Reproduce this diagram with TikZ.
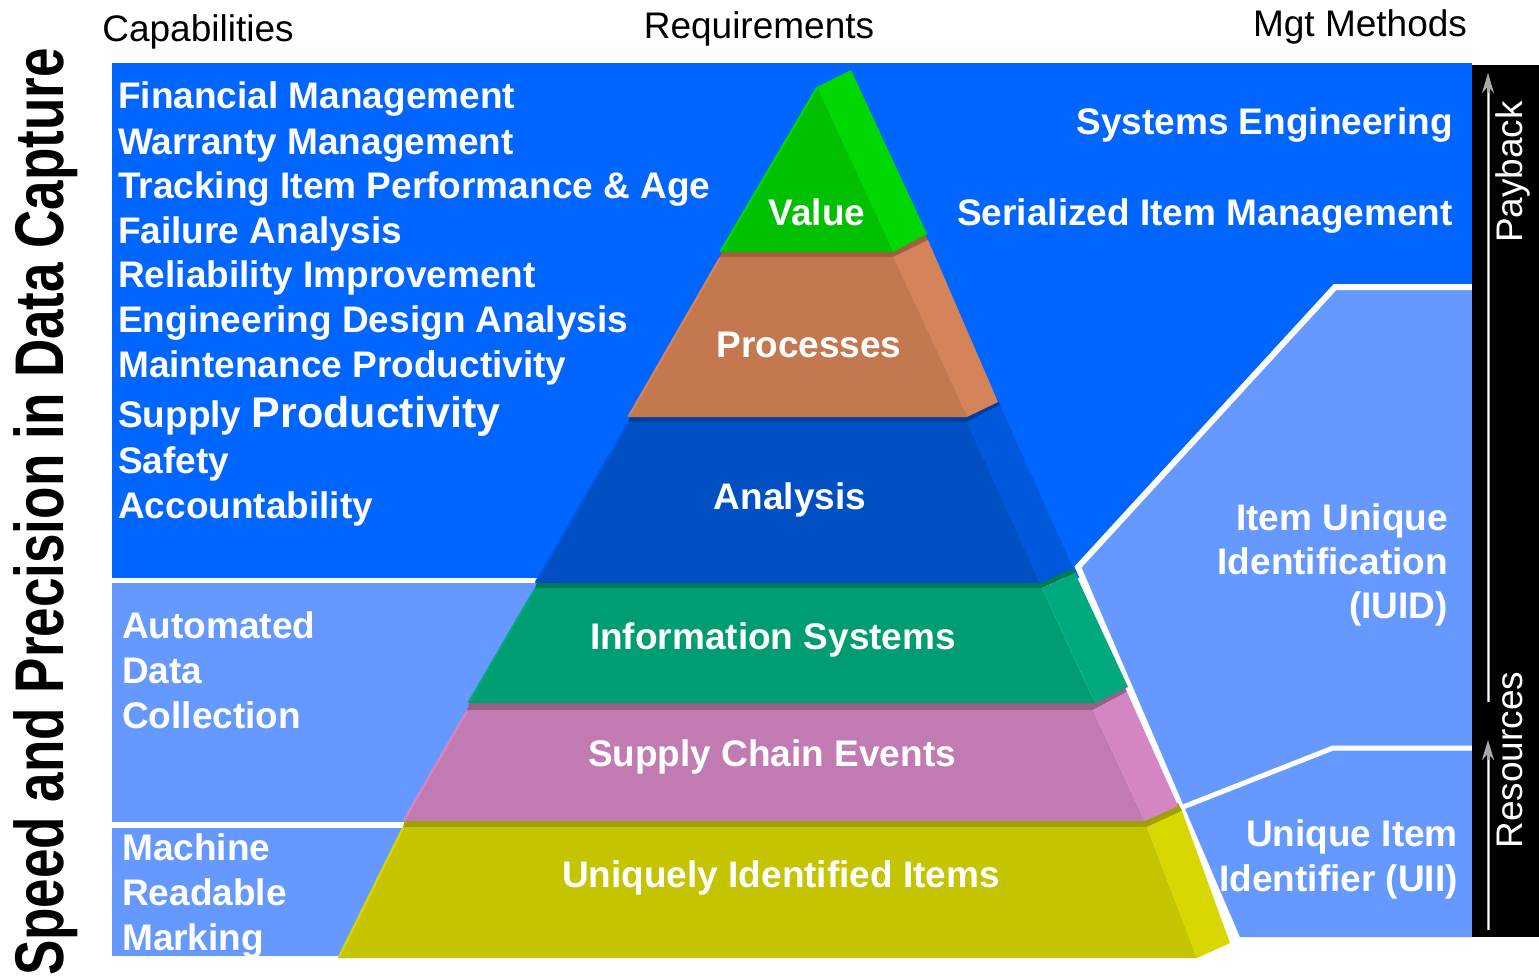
\documentclass[tikz,border=0pt]{standalone}
\usepackage{fontspec}
\setmainfont{Liberation Sans}
\usetikzlibrary{arrows.meta}
\definecolor{topblue}{HTML}{0066FF}
\definecolor{lightblue}{HTML}{6699FF}
\definecolor{vfront}{HTML}{00C000}
\definecolor{vside}{HTML}{00D800}
\definecolor{pfront}{HTML}{C47850}
\definecolor{pside}{HTML}{D48458}
\definecolor{pstrip}{HTML}{A0603C}
\definecolor{afront}{HTML}{0050C4}
\definecolor{aside}{HTML}{0058DC}
\definecolor{astrip}{HTML}{003FA0}
\definecolor{ifront}{HTML}{009C72}
\definecolor{iside}{HTML}{00AA7E}
\definecolor{istrip}{HTML}{007A56}
\definecolor{sfront}{HTML}{C27AB2}
\definecolor{sside}{HTML}{D486C2}
\definecolor{sstrip}{HTML}{966089}
\definecolor{ufront}{HTML}{C4C400}
\definecolor{uside}{HTML}{D8D800}
\definecolor{ustrip}{HTML}{A0A000}
\definecolor{arrowgray}{HTML}{A8A8A8}
\tikzset{
  wlbl/.style={text=white, font=\bfseries\fontsize{37}{40}\selectfont, inner sep=0pt},
  hdr/.style={text=black, font=\fontsize{37}{40}\selectfont, inner sep=0pt},
  vlbl/.style={text=white, font=\fontsize{37}{40}\selectfont, inner sep=0pt, rotate=90, anchor=base},
  gapline/.style={white, line join=miter},
  hiedge/.style={line width=2.2pt},
  resarrow/.style={arrowgray, line width=3pt, -{Stealth[length=20pt,width=12pt]}},
}
\begin{document}
\begin{tikzpicture}[x=1pt,y=-1pt]
\useasboundingbox (0,0) rectangle (1539,979);
\fill[white] (0,0) rectangle (1539,979);

% background panels
\fill[topblue] (112,63) rectangle (1472,578);
\fill[lightblue] (112,583) rectangle (620,822);
\fill[lightblue] (112,828) rectangle (450,956);
\fill[lightblue] (1078,567) -- (1335,287) -- (1472,287) -- (1472,937) -- (1237,937) -- cycle;
\draw[gapline, line width=6pt] (1472,287) -- (1335,287) -- (1078,567) -- (1240,945);
\draw[gapline, line width=5pt] (1183,807) -- (1333,748) -- (1472,748);
\fill[black] (1472,65) rectangle (1539,937);

% layer 6: Uniquely Identified Items
\fill[ustrip] (403,827) -- (1147,827) -- (1182,811) -- (1178,803) -- (1145,817) -- (406,817) -- cycle;
\fill[ufront] (403,827) -- (1147,827) -- (1197,958) -- (338,958) -- cycle;
\fill[uside] (1147,827) -- (1182,811) -- (1230,943) -- (1197,958) -- cycle;
\draw[uside, hiedge] (403,828) -- (339,957);

% layer 5: Supply Chain Events
\fill[sstrip] (467,710) -- (1093,710) -- (1127,692) -- (1124,685) -- (1093,700) -- (470,700) -- cycle;
\fill[sfront] (467,710) -- (1093,710) -- (1145,821) -- (403,821) -- cycle;
\fill[sside] (1093,710) -- (1127,692) -- (1178,806) -- (1145,821) -- cycle;
\draw[sside, hiedge] (467,711) -- (404,820);

% layer 4: Information Systems
\fill[istrip] (535,588) -- (1042,588) -- (1075,573) -- (1072,566) -- (1040,580) -- (538,580) -- cycle;
\fill[ifront] (535,588) -- (1042,588) -- (1095,703) -- (468,703) -- cycle;
\fill[iside] (1042,588) -- (1075,573) -- (1128,687) -- (1095,703) -- cycle;
\draw[iside, hiedge] (535,589) -- (469,702);

% layer 3: Analysis
\fill[astrip] (628,422) -- (967,422) -- (1000,405) -- (997,398) -- (966,413) -- (631,413) -- cycle;
\fill[afront] (628,422) -- (967,422) -- (1040,583) -- (535,583) -- cycle;
\fill[aside] (967,422) -- (1000,405) -- (1073,568) -- (1040,583) -- cycle;
\draw[aside, hiedge] (628,423) -- (536,582);

% layer 2: Processes
\fill[pstrip] (720,257) -- (893,257) -- (928,240) -- (925,233) -- (893,248) -- (723,248) -- cycle;
\fill[pfront] (720,257) -- (893,257) -- (967,417) -- (628,417) -- cycle;
\fill[pside] (893,257) -- (928,240) -- (998,402) -- (967,417) -- cycle;
\draw[pside, hiedge] (720,258) -- (629,416);

% layer 1: Value
\fill[vfront] (817,87) -- (893,252) -- (720,252) -- cycle;
\fill[vside] (817,87) -- (851,70) -- (927,234) -- (893,252) -- cycle;
\draw[vside, hiedge] (817,88) -- (721,251);

% pyramid labels
\node[wlbl, anchor=base] (value) at (817,225) {Value};
\node[wlbl, anchor=base] (processes) at (809,357) {Processes};
\node[wlbl, anchor=base] (analysis) at (790,509) {Analysis};
\node[wlbl, anchor=base] (infosys) at (773,649) {Information Systems};
\node[wlbl, anchor=base] (supply) at (772,766) {Supply Chain Events};
\node[wlbl, anchor=base] (uii) at (781,887) {Uniquely Identified Items};

% headers
\node[hdr, anchor=base] (hcap) at (198,42) {Capabilities};
\node[hdr, anchor=base] (hreq) at (759,39) {Requirements};
\node[hdr, anchor=base] (hmgt) at (1360,37) {Mgt Methods};

% capabilities list
\node[wlbl, anchor=base west] (c1) at (118,109) {Financial Management};
\node[wlbl, anchor=base west] (c2) at (118,154) {Warranty Management};
\node[wlbl, anchor=base west] (c3) at (118,198) {Tracking Item Performance \& Age};
\node[wlbl, anchor=base west] (c4) at (118,243) {Failure Analysis};
\node[wlbl, anchor=base west] (c5) at (118,287) {Reliability Improvement};
\node[wlbl, anchor=base west] (c6) at (118,332) {Engineering Design Analysis};
\node[wlbl, anchor=base west] (c7) at (118,377) {Maintenance Productivity};
\node[wlbl, anchor=base west] (c8) at (118,427) {Supply {\fontsize{43}{46}\selectfont Productivity}};
\node[wlbl, anchor=base west] (c9) at (118,473) {Safety};
\node[wlbl, anchor=base west] (c10) at (118,518) {Accountability};

% left lower panels
\node[wlbl, anchor=base west] (adc1) at (122,638) {Automated};
\node[wlbl, anchor=base west] (adc2) at (122,683) {Data};
\node[wlbl, anchor=base west] (adc3) at (122,728) {Collection};
\node[wlbl, anchor=base west] (mrm1) at (122,860) {Machine};
\node[wlbl, anchor=base west] (mrm2) at (122,905) {Readable};
\node[wlbl, anchor=base west] (mrm3) at (122,950) {Marking};

% right texts
\node[wlbl, anchor=base east] (se) at (1453,135) {Systems Engineering};
\node[wlbl, anchor=base east] (sim) at (1453,225) {Serialized Item Management};
\node[wlbl, anchor=base east] (iuid1) at (1448,530) {Item Unique};
\node[wlbl, anchor=base east] (iuid2) at (1448,574) {Identification};
\node[wlbl, anchor=base east] (iuid3) at (1448,618) {(IUID)};
\node[wlbl, anchor=base east] (uii1) at (1458,846) {Unique Item};
\node[wlbl, anchor=base east] (uii2) at (1458,891) {Identifier (UII)};

% left vertical title
\node[text=black, font=\bfseries\fontsize{53}{56}\selectfont, inner sep=0pt, rotate=90, anchor=base] (title) at (63,512) {\scalebox{1}[1.3]{Speed and Precision in Data Capture}};

% right bar arrows and labels
\coordinate (r0) at (1488,930);
\coordinate (r1) at (1488,740);
\coordinate (p0) at (1488,702);
\coordinate (p1) at (1488,73);
\draw[resarrow] (r0) -- (r1);
\draw[resarrow] (p0) -- (p1);
\draw[white, line width=1pt] (1488,930) -- (1488,760);
\draw[white, line width=1pt] (1488,702) -- (1488,93);
\node[vlbl] (payback) at (1522,172) {Payback};
\node[vlbl] (resources) at (1522,760) {Resources};
\end{tikzpicture}
\end{document}
